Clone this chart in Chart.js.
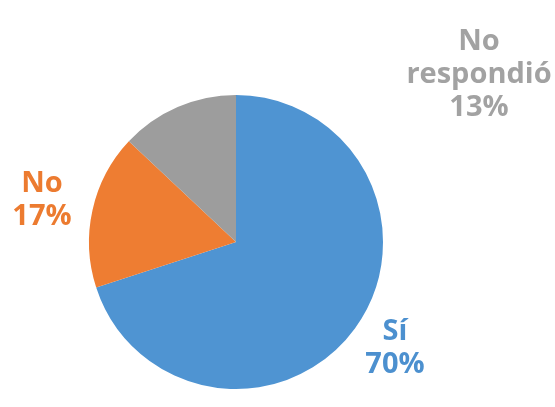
<!DOCTYPE html>
<html>
<head>
<meta charset="utf-8">
<script src="https://cdn.jsdelivr.net/npm/chart.js@4"></script>
<style>
  body { margin: 0; background: #fff; }
  #grafico { display: block; }
</style>
</head>
<body>
<canvas id="grafico" width="555" height="407"></canvas>
<script>
const categorias = ["Sí", "No", "No respondió"];
const porcentajes = [70, 17, 13];
const colores = ["#4f94d2", "#ee7d32", "#9d9d9d"];
const coloresTexto = ["#4c90cf", "#ec7b30", "#a2a2a2"];

// donde va cada etiqueta, relativo al centro de la torta
const posEtiquetas = [[159, 106], [-194, -42], [243, -167]];

const etiquetasTorta = {
  id: "etiquetasTorta",
  afterDatasetsDraw(chart) {
    const ctx = chart.ctx;
    const arcos = chart.getDatasetMeta(0).data;
    ctx.save();
    ctx.font = "bold 29px 'Open Sans'";
    ctx.textAlign = "center";
    ctx.textBaseline = "middle";
    arcos.forEach((arco, i) => {
      const x = arco.x + posEtiquetas[i][0];
      const y = arco.y + posEtiquetas[i][1];
      const lineas = categorias[i].split(" ");
      lineas.push(porcentajes[i] + "%");
      const alto = 33;
      const y0 = y - (lineas.length - 1) * alto / 2;
      ctx.fillStyle = coloresTexto[i];
      lineas.forEach((l, j) => ctx.fillText(l, x, y0 + j * alto));
    });
    ctx.restore();
  }
};

new Chart(document.getElementById("grafico"), {
  type: "pie",
  data: {
    labels: categorias,
    datasets: [{
      data: porcentajes,
      backgroundColor: colores,
      borderWidth: 0
    }]
  },
  options: {
    responsive: false,
    animation: false,
    layout: { padding: { left: 89, right: 172, top: 95, bottom: 18 } },
    plugins: {
      legend: { display: false },
      tooltip: { enabled: false }
    }
  },
  plugins: [etiquetasTorta]
});
</script>
</body>
</html>
